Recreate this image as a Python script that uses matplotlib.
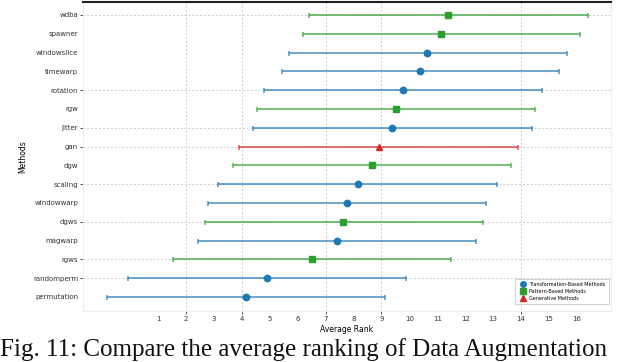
import matplotlib
matplotlib.use("Agg")
import matplotlib.pyplot as plt
from matplotlib.lines import Line2D

methods = ["wdba", "spawner", "windowslice", "timewarp", "rotation", "rgw", "jitter", "gan",
           "dgw", "scaling", "windowwarp", "dgws", "magwarp", "rgws", "randomperm", "permutation"]
mean_rank = [11.39, 11.13, 10.64, 10.39, 9.77, 9.51, 9.39, 8.90,
             8.65, 8.15, 7.77, 7.64, 7.40, 6.51, 4.90, 4.14]
ci_low = [6.42, 6.18, 5.68, 5.43, 4.81, 4.53, 4.40, 3.91,
          3.67, 3.16, 2.80, 2.67, 2.42, 1.54, -0.07, -0.84]
ci_high = [16.38, 16.12, 15.63, 15.37, 14.75, 14.50, 14.39, 13.89,
           13.63, 13.13, 12.74, 12.65, 12.37, 11.49, 9.88, 9.12]
groups = ["P", "P", "T", "T", "T", "P", "T", "G",
          "P", "T", "T", "P", "T", "P", "T", "T"]
group_names = {"T": "Transformation-Based Methods", "P": "Pattern-Based Methods", "G": "Generative Methods"}
x_ticks = list(range(1, 17))

colors = {"T": "#1f77b4", "P": "#2ca02c", "G": "#d62728"}
markers = {"T": "o", "P": "s", "G": "^"}

fig = plt.figure(figsize=(6.4, 3.62), dpi=100)
ax = fig.add_axes([83/640, 1-311/362, (611-83)/640, (311-2)/362])

for i, (m, lo, hi, g) in enumerate(zip(mean_rank, ci_low, ci_high, groups)):
    c = colors[g]
    ax.errorbar([m], [i], xerr=[[m - lo], [hi - m]], fmt="none", ecolor=c, elinewidth=1.3,
                capsize=1.8, capthick=1.2, alpha=0.7, zorder=3)
    ax.plot([m], [i], marker=markers[g], color=c, markersize=4.6 if g != "P" else 5.0,
            linestyle="none", zorder=4)

ax.set_yticks(range(len(methods)))
ax.set_yticklabels(methods, fontsize=5)
ax.set_xticks(x_ticks)
ax.set_xticklabels([str(t) for t in x_ticks], fontsize=5)
ax.set_xlim(-1.685, 17.22)
ax.set_ylim(len(methods) - 1 + 0.745, -0.69)
ax.set_xlabel("Average Rank", fontsize=5.5, labelpad=2)
ax.set_ylabel("Methods", fontsize=5.5, labelpad=4)

ax.tick_params(axis="both", length=2, width=0.6, colors="#333333", pad=1.5)
ax.grid(True, linestyle=(0, (2, 2)), color="#cccccc", linewidth=0.7, zorder=0)

x_vis = {2, 4, 7, 9, 14}
for t, gl, tl in zip(x_ticks, ax.get_xgridlines(), ax.xaxis.get_major_ticks()):
    if t not in x_vis:
        gl.set_visible(False)
        tl.tick1line.set_visible(False)
y_vis = {"wdba", "rotation", "jitter", "gan", "scaling", "dgws", "rgws", "randomperm"}
for name, gl, tl in zip(methods, ax.get_ygridlines(), ax.yaxis.get_major_ticks()):
    if name not in y_vis:
        gl.set_visible(False)
        tl.tick1line.set_visible(False)

for s in ["left", "right", "bottom"]:
    ax.spines[s].set_color("#eeeeee")
    ax.spines[s].set_linewidth(0.8)
ax.spines["top"].set_color("#222222")
ax.spines["top"].set_linewidth(1.5)

handles = [Line2D([], [], marker=markers[k], color=colors[k], linestyle="none", markersize=4)
           for k in ["T", "P", "G"]]
leg = ax.legend(handles, [group_names[k] for k in ["T", "P", "G"]], loc="lower right",
                fontsize=3.5, frameon=True, fancybox=False, borderpad=0.6, handletextpad=0.3,
                labelspacing=0.4, bbox_to_anchor=(1.0, 0.015))
leg.get_frame().set_edgecolor("#bbbbbb")
leg.get_frame().set_linewidth(0.6)

fig.text(0.0, 0.004, "Fig. 11: Compare the average ranking of Data Augmentation",
         family="Liberation Serif", fontsize=18, ha="left", va="bottom", color="#111111")

fig.savefig("out.png", dpi=100)
